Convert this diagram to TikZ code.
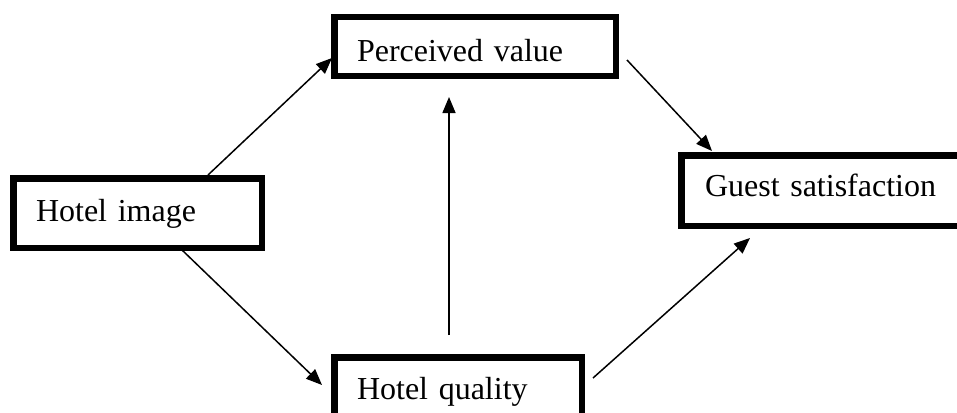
\documentclass[tikz,border=0pt]{standalone}
\usepackage{fontspec}
\setmainfont{Liberation Serif}
\usetikzlibrary{calc,arrows.meta}
\begin{document}
\begin{tikzpicture}[x=1pt,y=-1pt,
  box/.style={draw, line width=6.5pt, outer sep=0pt, inner ysep=0pt,
    inner xsep=22.75pt, align=left, anchor=north west,
    font=\fontsize{32}{38}\selectfont},
  link/.style={line width=1.5pt, -{Triangle[length=16pt,width=13pt]}}]
\useasboundingbox (0,0) rectangle (957,412);
\clip (0,0) rectangle (957,412);
\fill[white] (0,0) rectangle (957,412);

% the four constructs
\node[box, text width=203pt, text height=42.75pt, text depth=26.75pt]
  (img) at (13.25,178.25) {Hotel image};
\node[box, text width=236pt, text height=43.75pt, text depth=14.75pt]
  (pv) at (334.25,17.25) {Perceived value};
\node[box, text width=202pt, text height=41.75pt, text depth=26pt]
  (hq) at (334.25,357.25) {Hotel quality};
\node[box, inner xsep=23.75pt, text width=233pt, text height=40.75pt, text depth=29.75pt]
  (gs) at (681.25,155.25) {Guest satisfaction};

% paths between constructs
\draw[link] ($(img.north west)+(194.75,-3.25)$) -- ($(pv.north west)+(-2.25,40.75)$);
\draw[link] ($(img.south west)+(168.75,2.25)$) -- ($(hq.north west)+(-12.25,27.75)$);
\draw[link] ($(hq.north west)+(114.75,-22.25)$) -- ($(pv.south west)+(114.75,21.25)$);
\draw[link] ($(pv.north east)+(11.25,42.75)$) -- ($(gs.north west)+(30.75,-4.25)$);
\draw[link] ($(hq.north east)+(11.25,20.75)$) -- ($(gs.south west)+(68.75,12.25)$);
\end{tikzpicture}
\end{document}
